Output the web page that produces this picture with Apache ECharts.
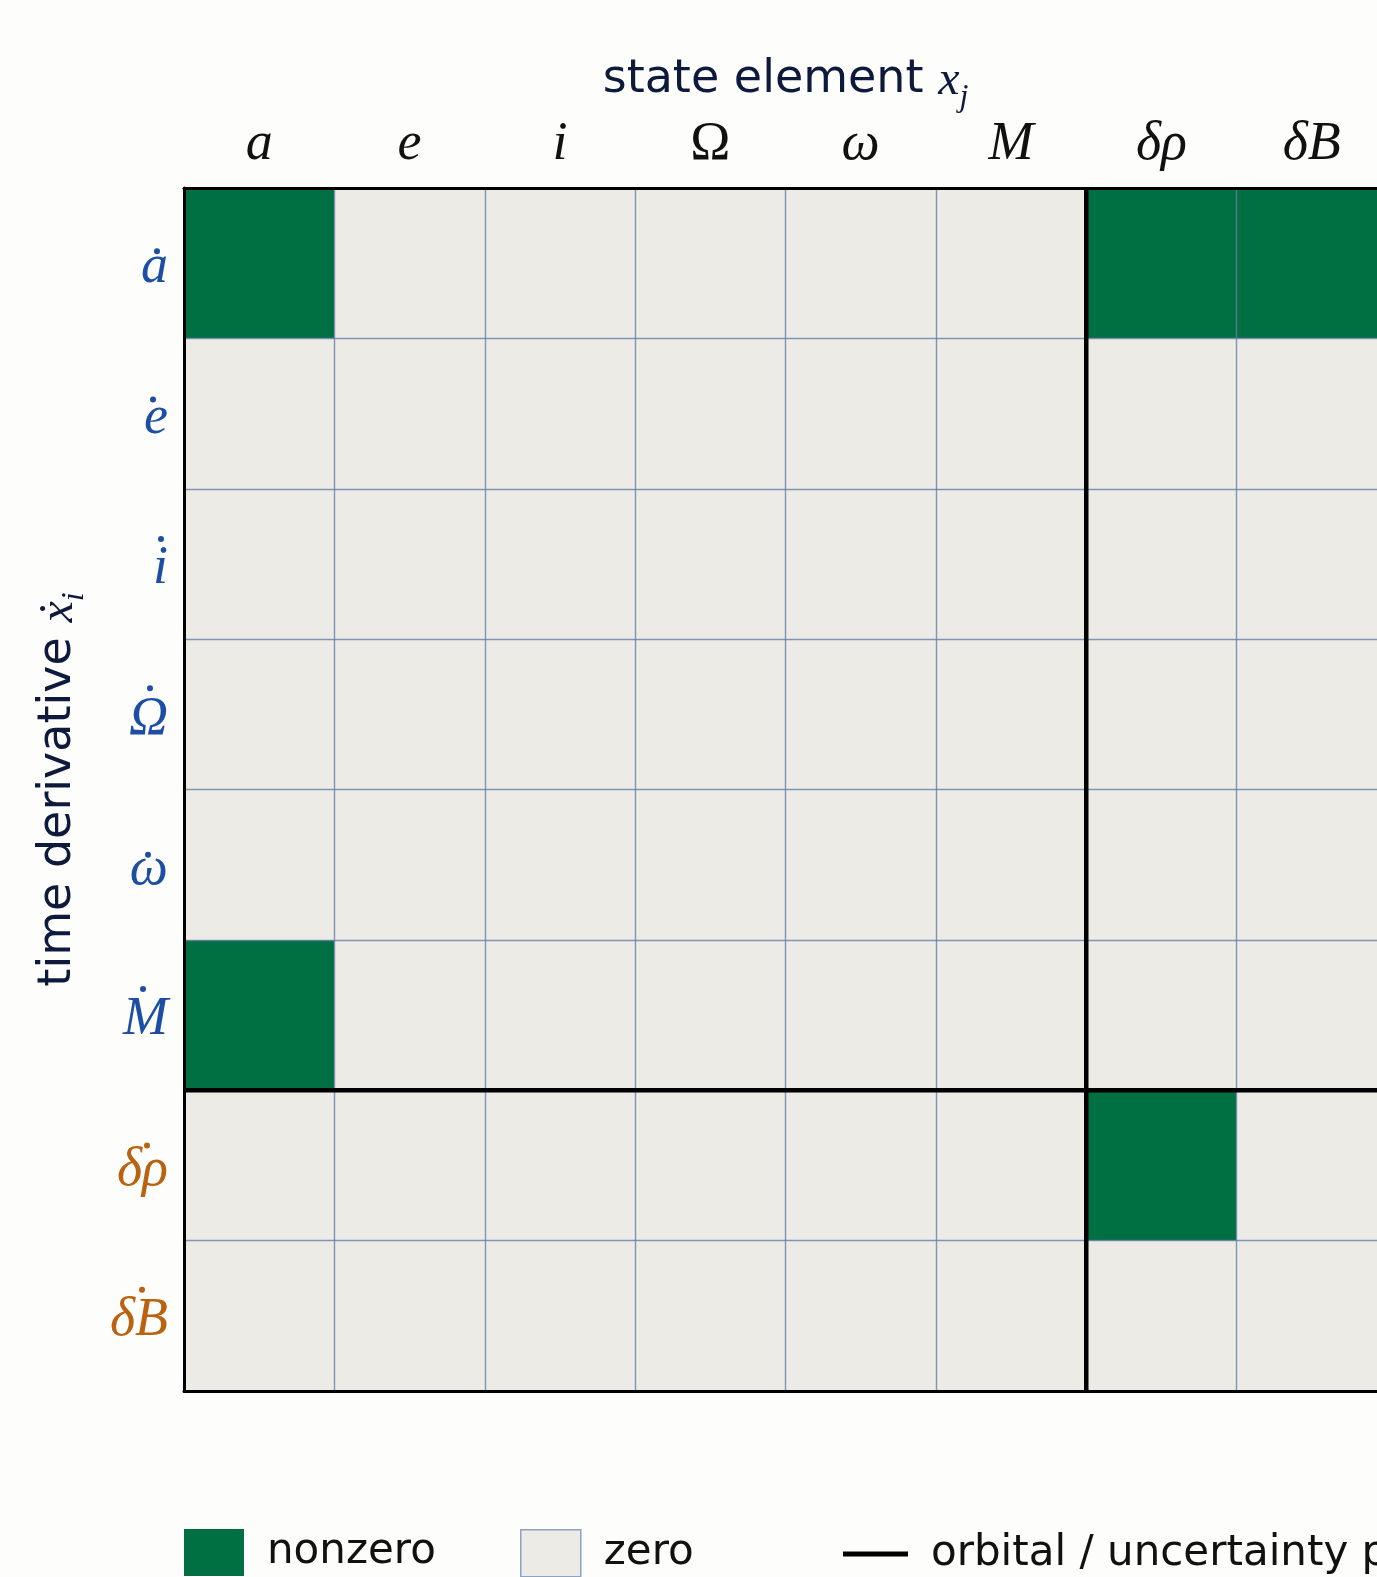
<!DOCTYPE html>
<html>
<head>
<meta charset="utf-8">
<script src="https://cdn.jsdelivr.net/npm/echarts@6/dist/echarts.min.js"></script>
<style>
  html, body { margin: 0; padding: 0; background: #fdfdfb; overflow: hidden; }
  /* the matrix runs slightly past the right edge of the page, so the canvas is wider than the viewport */
  #chart { width: 1400px; height: 1577px; }
</style>
</head>
<body>
<div id="chart"></div>
<script>
// State elements (columns)
const stateLabels = ['a', 'e', 'i', 'Ω', 'ω', 'M', 'δρ', 'δB'];
// Time derivatives (rows): base symbols, each drawn with an overdot
const derivLabels = ['a', 'e', 'i', 'Ω', 'ω', 'M', 'δρ', 'δB'];
// Labels set upright rather than italic
const uprightLabels = ['Ω'];
// Number of orbital elements before the uncertainty block
const orbitalCount = 6;
// Sparsity pattern: 1 = nonzero partial derivative, rows = derivatives, columns = states
const sparsity = [
  [1, 0, 0, 0, 0, 0, 1, 1],
  [0, 0, 0, 0, 0, 0, 0, 0],
  [0, 0, 0, 0, 0, 0, 0, 0],
  [0, 0, 0, 0, 0, 0, 0, 0],
  [0, 0, 0, 0, 0, 0, 0, 0],
  [1, 0, 0, 0, 0, 0, 0, 0],
  [0, 0, 0, 0, 0, 0, 1, 0],
  [0, 0, 0, 0, 0, 0, 0, 0]
];
const legendNames = ['nonzero', 'zero', 'orbital / uncertainty partition'];

const GREEN = '#006f41';
const LIGHT = '#ecebe6';
const GRIDLINE = 'rgba(100,126,170,0.8)';
const BLUE = '#1d4ea6';
const ORANGE = '#b9620f';
const NAVY = '#0d1a3b';
const MATH_FONT = '"Liberation Serif", "DejaVu Serif", serif';
const SANS_FONT = '"DejaVu Sans", sans-serif';

// Overdot placement per row label: shift left from the label's right edge, lift above row centre
const dotShift = [14, 18, 10, 21, 23, 28, 24, 29];
const dotLift = [12, 14, 25, 26, 10, 26, 20, 26];
const DOT = 6;
const DOT_MARGIN = 10;

const nonzeroCells = [];
const zeroCells = [];
sparsity.forEach((row, r) => row.forEach((v, c) => {
  (v ? nonzeroCells : zeroCells).push([c, r, v]);
}));

const n = stateLabels.length;

// Rich styles for the overdots drawn on a companion axis
const dotRich = {
  db: { width: DOT, height: DOT, lineHeight: DOT, backgroundColor: BLUE, borderRadius: DOT / 2 },
  do: { width: DOT, height: DOT, lineHeight: DOT, backgroundColor: ORANGE, borderRadius: DOT / 2 }
};
derivLabels.forEach((_, i) => {
  dotRich['g' + i] = { width: dotShift[i], height: DOT, lineHeight: DOT };
  dotRich['s' + i] = { width: 1, height: dotLift[i] * 2, lineHeight: dotLift[i] * 2 };
});

const chart = echarts.init(document.getElementById('chart'), null, { renderer: 'canvas' });

const legendBase = {
  top: 1529,
  padding: 0,
  orient: 'horizontal',
  itemWidth: 60,
  itemHeight: 47,
  selectedMode: false,
  textStyle: { fontFamily: SANS_FONT, fontSize: 42, color: '#111', padding: [8, 0, 0, 18] }
};

const nameRich = {
  t: { fontFamily: SANS_FONT, fontSize: 46, color: NAVY, lineHeight: 56, verticalAlign: 'top' },
  m: { fontFamily: MATH_FONT, fontStyle: 'italic', fontSize: 48, color: NAVY, lineHeight: 56, verticalAlign: 'top' },
  s: { fontFamily: MATH_FONT, fontStyle: 'italic', fontSize: 32, color: NAVY, lineHeight: 30, verticalAlign: 'bottom' }
};

chart.setOption({
  backgroundColor: '#fdfdfb',
  animation: false,
  grid: { left: 184, top: 188, width: 1203, height: 1203, containLabel: false },
  xAxis: [
    {
      type: 'category',
      data: stateLabels,
      position: 'top',
      z: 10,
      name: '{t|state element }{m|x}{s|j}',
      nameLocation: 'middle',
      nameGap: 72,
      nameTextStyle: { rich: nameRich },
      axisLine: { show: true, lineStyle: { color: '#000', width: 3 } },
      axisTick: { show: false },
      splitLine: { show: true, interval: 0, lineStyle: { color: GRIDLINE, width: 1.4 } },
      axisLabel: {
        interval: 0,
        margin: 16,
        formatter: v => uprightLabels.includes(v) ? `{up|${v}}` : `{it|${v}}`,
        rich: {
          it: { fontFamily: MATH_FONT, fontStyle: 'italic', fontSize: 54, color: '#111' },
          up: { fontFamily: MATH_FONT, fontSize: 54, color: '#111' }
        }
      }
    },
    {
      type: 'value',
      min: 0,
      max: n,
      position: 'bottom',
      z: 10,
      axisLine: { show: true, onZero: false, lineStyle: { color: '#000', width: 3 } },
      axisTick: { show: false },
      axisLabel: { show: false },
      splitLine: { show: false }
    }
  ],
  yAxis: [
    {
      type: 'category',
      data: derivLabels,
      inverse: true,
      position: 'left',
      z: 10,
      name: '{t|time derivative }{m|x\u0307}{s|i}',
      nameLocation: 'middle',
      nameRotate: 90,
      nameGap: 93,
      nameTextStyle: { rich: nameRich },
      axisLine: { show: true, lineStyle: { color: '#000', width: 3 } },
      axisTick: { show: false },
      splitLine: { show: true, interval: 0, lineStyle: { color: GRIDLINE, width: 1.4 } },
      axisLabel: {
        interval: 0,
        margin: 16,
        formatter: (v, idx) => (idx < orbitalCount ? `{b|${v}}` : `{o|${v}}`),
        rich: {
          b: { fontFamily: MATH_FONT, fontStyle: 'italic', fontSize: 54, color: BLUE, padding: [10, 0, 0, 0] },
          o: { fontFamily: MATH_FONT, fontStyle: 'italic', fontSize: 54, color: ORANGE, padding: [10, 0, 0, 0] }
        }
      }
    },
    {
      type: 'value',
      min: 0,
      max: n,
      inverse: true,
      position: 'right',
      z: 10,
      axisLine: { show: true, onZero: false, lineStyle: { color: '#000', width: 3 } },
      axisTick: { show: false },
      axisLabel: { show: false },
      splitLine: { show: false }
    },
    {
      // overdots of the derivative labels
      type: 'category',
      data: derivLabels,
      inverse: true,
      position: 'left',
      z: 11,
      axisLine: { show: false },
      axisTick: { show: false },
      splitLine: { show: false },
      axisLabel: {
        interval: 0,
        margin: DOT_MARGIN,
        formatter: (v, idx) => `{${idx < orbitalCount ? 'db' : 'do'}| }{g${idx}| }\n{s${idx}| }`,
        rich: dotRich
      }
    }
  ],
  legend: [
    Object.assign({}, legendBase, {
      left: 184,
      data: [{ name: legendNames[0], icon: 'rect', itemStyle: { color: GREEN, borderWidth: 0 } }]
    }),
    Object.assign({}, legendBase, {
      left: 520,
      data: [{ name: legendNames[1], icon: 'rect', itemStyle: { color: LIGHT, borderColor: '#8ea3c2', borderWidth: 1.5 } }]
    }),
    Object.assign({}, legendBase, {
      left: 843,
      top: 1533,
      itemWidth: 65,
      data: [{ name: legendNames[2], icon: 'path://M0,0H65V5H0Z', itemStyle: { color: '#000', borderWidth: 0 } }]
    })
  ],
  series: [
    {
      name: legendNames[0],
      type: 'heatmap',
      xAxisIndex: 0,
      yAxisIndex: 0,
      data: nonzeroCells,
      itemStyle: { color: GREEN, borderWidth: 0 },
      emphasis: { disabled: true },
      z: 2
    },
    {
      name: legendNames[1],
      type: 'heatmap',
      xAxisIndex: 0,
      yAxisIndex: 0,
      data: zeroCells,
      itemStyle: { color: LIGHT, borderWidth: 0 },
      emphasis: { disabled: true },
      z: 2
    },
    {
      name: legendNames[2],
      type: 'line',
      xAxisIndex: 1,
      yAxisIndex: 1,
      data: [[orbitalCount, 0], [orbitalCount, n]],
      symbol: 'none',
      color: '#000',
      lineStyle: { color: '#000', width: 4.5 },
      z: 20,
      silent: true
    },
    {
      name: legendNames[2],
      type: 'line',
      xAxisIndex: 1,
      yAxisIndex: 1,
      data: [[0, orbitalCount], [n, orbitalCount]],
      symbol: 'none',
      color: '#000',
      lineStyle: { color: '#000', width: 4.5 },
      z: 20,
      silent: true
    }
  ]
});
</script>
</body>
</html>
